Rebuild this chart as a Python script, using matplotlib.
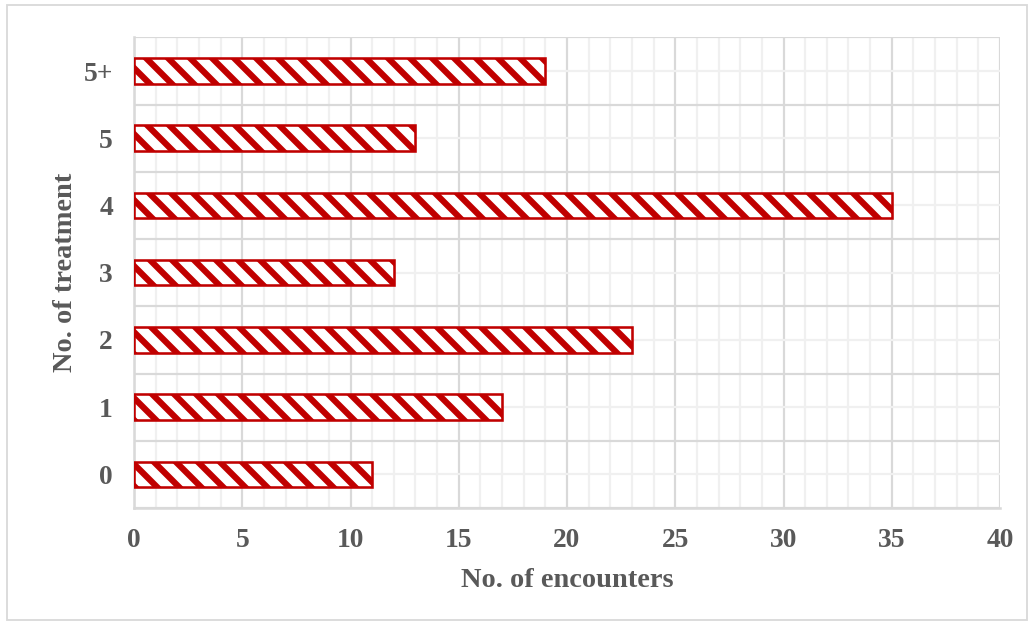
import matplotlib
matplotlib.use("Agg")
import matplotlib.pyplot as plt
from matplotlib.patches import Rectangle
from matplotlib.ticker import MultipleLocator

categories = ["0", "1", "2", "3", "4", "5", "5+"]
encounters = [11, 17, 23, 12, 35, 13, 19]

DPI = 132
W, H = 1033, 623
plt.rcParams['font.family'] = ['Liberation Serif', 'DejaVu Serif']
plt.rcParams['hatch.linewidth'] = 3.4
plt.rcParams['hatch.color'] = '#C00000'

fig = plt.figure(figsize=(W / DPI, H / DPI), dpi=DPI)
ax = fig.add_axes([134 / W, 1 - 508 / H, (1000 - 134) / W, (508 - 37.4) / H])

pos = list(range(len(categories)))
ax.barh(pos, encounters, height=0.38, color='white', edgecolor='#C00000',
        hatch='\\\\', linewidth=1.4, zorder=3)

ax.set_xlim(0, 40)
ax.set_ylim(-0.5, len(categories) - 0.5)
ax.xaxis.set_major_locator(MultipleLocator(5))
ax.xaxis.set_minor_locator(MultipleLocator(1))
ax.set_yticks(pos)
ax.set_yticklabels(categories)
ax.set_yticks([p - 0.5 for p in pos] + [len(categories) - 0.5], minor=True)

ax.grid(which='major', axis='x', color='#D9D9D9', linewidth=1.2, zorder=0)
ax.grid(which='minor', axis='x', color='#F0F0F0', linewidth=1.2, zorder=0)
ax.grid(which='minor', axis='y', color='#D9D9D9', linewidth=1.2, zorder=0)
ax.grid(which='major', axis='y', color='#F0F0F0', linewidth=1.2, zorder=0)
ax.set_axisbelow(True)

for s in ['top', 'right']:
    ax.spines[s].set_visible(False)
for s in ['left', 'bottom']:
    ax.spines[s].set_color('#D9D9D9')
    ax.spines[s].set_linewidth(1.4)

ax.tick_params(which='both', length=0)
ax.tick_params(axis='x', pad=11, labelsize=15, labelcolor='#595959')
ax.tick_params(axis='y', pad=11.5, labelsize=15, labelcolor='#595959')
for lab in ax.get_xticklabels() + ax.get_yticklabels():
    lab.set_fontweight('bold')

ax.set_xlabel("No. of encounters", fontsize=15.5, fontweight='bold', color='#595959', labelpad=8)
ax.set_ylabel("No. of treatment", fontsize=15.5, fontweight='bold', color='#595959', labelpad=3)

fig.patches.append(Rectangle((7 / W, 1 - 620 / H), (1027 - 7) / W, (620 - 5) / H,
                             transform=fig.transFigure, fill=False,
                             edgecolor='#D9D9D9', linewidth=1.0))

fig.savefig("out.png", dpi=DPI)
